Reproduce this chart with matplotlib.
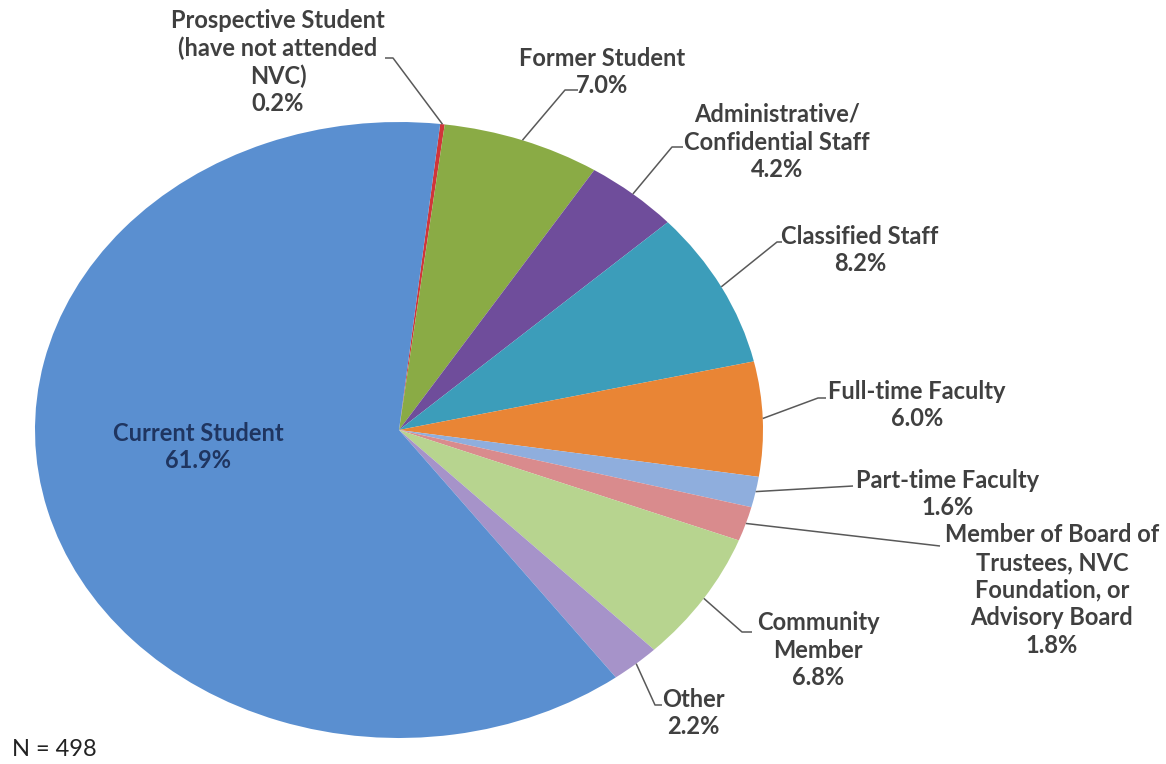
import numpy as np
import matplotlib
matplotlib.use("Agg")
import matplotlib.pyplot as plt

plt.rcParams["font.family"] = ["Lato", "DejaVu Sans"]

# survey respondents by role, in slice order (clockwise from the top)
labels = ["Prospective Student\n(have not attended\nNVC)", "Former Student",
          "Administrative/\nConfidential Staff", "Classified Staff",
          "Full-time Faculty", "Part-time Faculty",
          "Member of Board of\nTrustees, NVC\nFoundation, or\nAdvisory Board",
          "Community\nMember", "Other", "Current Student"]
shares = [0.2, 7.0, 4.2, 8.2, 6.0, 1.6, 1.8, 6.8, 2.2, 61.9]
colors = ["#D0353A", "#8AAB45", "#6F4D9B", "#3C9DBA", "#E98535",
          "#8FAEDD", "#D98B8D", "#B7D48F", "#A693C9", "#5A8FD0"]
n_total = 498

# label centre (px), leader elbow (px), leader end (px) for each slice
label_pos = [(278, 62), (602, 72), (777, 142), (860, 250), (917, 405),
             (948, 494), (1052, 590), (818, 650), (693, 713), (198, 447)]
elbows = [(393, 58), (565, 90), (672, 147), (777, 242), (818, 398),
          (853, 486), (940, 546), (742, 632), (655, 705), None]
ends = [(385, 58), (578, 90), (683, 147), (782, 242), (826, 398),
        (853, 486), (940, 546), (752, 632), (662, 705), None]

W, H = 1166, 764
fig = plt.figure(figsize=(W / 100, H / 100), dpi=100)

# the pie is stretched wider than tall, so give it its own non-square axes
left, right, top, bottom = 35, 763, 122, 738
pie_ax = fig.add_axes([left / W, (H - bottom) / H, (right - left) / W, (bottom - top) / H])
start = 83.5
wedges, _ = pie_ax.pie(shares, colors=colors, startangle=start, counterclock=False,
                       wedgeprops=dict(linewidth=0))
pie_ax.set_aspect("auto")
pie_ax.set_xlim(-1, 1)
pie_ax.set_ylim(-1, 1)
pie_ax.axis("off")

# overlay in pixel coords for labels and leader lines
lab = fig.add_axes([0, 0, 1, 1])
lab.set_xlim(0, W)
lab.set_ylim(H, 0)
lab.axis("off")
lab.patch.set_alpha(0)

to_px = pie_ax.transData + lab.transData.inverted()
cum = np.cumsum([0] + shares[:-1])
txt_col = "#404040"
for i, (name, val) in enumerate(zip(labels, shares)):
    mid = np.deg2rad(start - 3.6 * (cum[i] + val / 2))
    if elbows[i] is not None:
        x0, y0 = to_px.transform((np.cos(mid), np.sin(mid)))
        lab.plot([x0, elbows[i][0], ends[i][0]], [y0, elbows[i][1], ends[i][1]],
                 color="#595959", lw=1.1, solid_capstyle="butt")
        col = txt_col
    else:
        col = "#1F3560"
    lab.text(label_pos[i][0], label_pos[i][1], f"{name}\n{val:.1f}%",
             ha="center", va="center", fontsize=17, fontweight="bold",
             color=col, linespacing=1.24)

lab.text(12, 750, f"N = {n_total}", ha="left", va="center", fontsize=17, color="#222222")

fig.savefig("out.png", dpi=100, facecolor="white")
